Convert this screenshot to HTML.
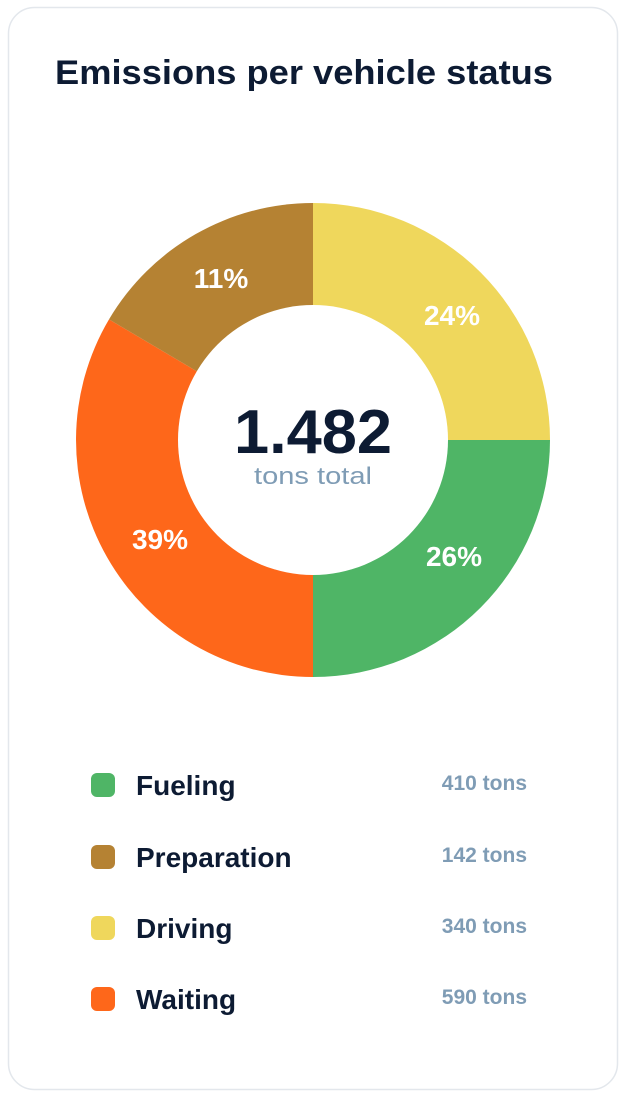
<!DOCTYPE html>
<html><head><meta charset="utf-8"><style>
html,body{margin:0;padding:0;background:#fff;}
svg{display:block;font-family:"Liberation Sans",sans-serif;}
</style></head><body>
<svg width="624" height="1096" viewBox="0 0 624 1096" xmlns="http://www.w3.org/2000/svg">
<rect x="8.5" y="7.5" width="609" height="1082" rx="26" fill="#fff" stroke="#e3e7ec" stroke-width="1.5"/>
<text x="55" y="84" font-size="34" font-weight="bold" fill="#0d1b33" textLength="498" lengthAdjust="spacingAndGlyphs">Emissions per vehicle status</text>
<g>
<path d="M313 440 L313 203 A237 237 0 0 1 550 440 Z" fill="#efd75c"/>
<path d="M313 440 L550 440 A237 237 0 0 1 313 677 Z" fill="#4fb566"/>
<path d="M313 440 L313 677 A237 237 0 0 1 109 319.4 Z" fill="#fe671a"/>
<path d="M313 440 L109 319.4 A237 237 0 0 1 313 203 Z" fill="#b58233"/>
<circle cx="313" cy="440" r="135" fill="#fff"/>
</g>
<g font-size="28" font-weight="bold" fill="#fff" text-anchor="middle">
<text x="221" y="288">11%</text>
<text x="452" y="325">24%</text>
<text x="454" y="566">26%</text>
<text x="160" y="549">39%</text>
</g>
<text x="313" y="453" font-size="62" font-weight="bold" fill="#0d1b33" text-anchor="middle" textLength="158" lengthAdjust="spacingAndGlyphs">1.482</text>
<text x="313" y="484" font-size="24" fill="#7f9cb5" text-anchor="middle" textLength="118" lengthAdjust="spacingAndGlyphs">tons total</text>
<g font-size="28" font-weight="bold" fill="#0d1b33">
<rect x="91" y="773" width="24" height="24" rx="6" fill="#4fb566"/>
<text x="136" y="795">Fueling</text>
<rect x="91" y="845" width="24" height="24" rx="6" fill="#b58233"/>
<text x="136" y="867">Preparation</text>
<rect x="91" y="916" width="24" height="24" rx="6" fill="#efd75c"/>
<text x="136" y="938">Driving</text>
<rect x="91" y="987" width="24" height="24" rx="6" fill="#fe671a"/>
<text x="136" y="1009">Waiting</text>
</g>
<g font-size="21" font-weight="bold" fill="#7f9cb5" text-anchor="end">
<text x="527" y="790">410 tons</text>
<text x="527" y="862">142 tons</text>
<text x="527" y="933">340 tons</text>
<text x="527" y="1004">590 tons</text>
</g>
</svg>
</body></html>
